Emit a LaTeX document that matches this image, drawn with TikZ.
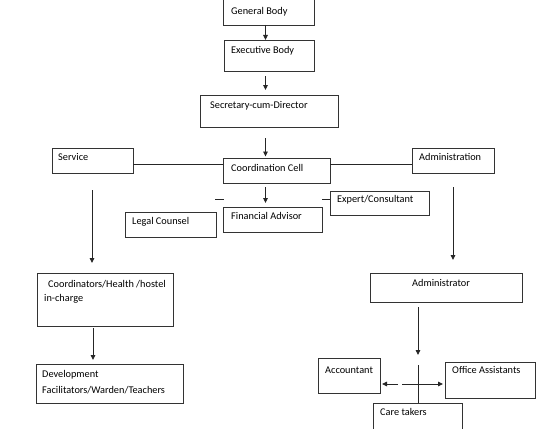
\documentclass[tikz,border=0pt]{standalone}
\usepackage{fontspec}
\setmainfont{Carlito}
\usetikzlibrary{arrows.meta,calc}
\begin{document}
\begin{tikzpicture}[x=1pt,y=-1pt,
  box/.style={draw=black!80,line width=0.9pt},
  txt/.style={anchor=west,inner sep=0pt,font=\fontsize{10.3}{12}\selectfont},
  conn/.style={draw=black!85,line width=0.9pt},
  arr/.style={conn,-{Triangle[length=5pt,width=4.5pt]}}]
\useasboundingbox[fill=white] (0,0) rectangle (551,428);
\begin{scope}
\clip (0,0) rectangle (551,428);
% boxes
\draw[box] (223,-3) rectangle (314,25);
\coordinate (GBs) at (265.5,25);
\draw[box] (224,40) rectangle (314,71);
\coordinate (EBn) at (265.5,40); \coordinate (EBs) at (265.5,71);
\draw[box] (200,95) rectangle (338,127);
\coordinate (SDn) at (265.5,95); \coordinate (SDs) at (265.5,127);
\draw[box] (223,158) rectangle (330,183);
\coordinate (CCn) at (265.5,158); \coordinate (CCs) at (265.5,183);
\coordinate (CCw) at (223,164.5); \coordinate (CCe) at (330,164.5);
\draw[box] (52,148) rectangle (133,173);
\coordinate (SVe) at (133,164.5); \coordinate (SVs) at (92,173);
\draw[box] (412,148) rectangle (494,173);
\coordinate (ADw) at (412,164.5); \coordinate (ADs) at (453,173);
\draw[box] (223,207) rectangle (322,232);
\coordinate (FAn) at (265.5,207);
\draw[box] (330,191) rectangle (429,215);
\coordinate (ECw) at (330,199);
\draw[box] (125,212) rectangle (216,237);
\draw[box] (37,273) rectangle (173,326);
\coordinate (COn) at (92,273); \coordinate (COs) at (93,326);
\draw[box] (36,364) rectangle (183,403);
\coordinate (DVn) at (93,364);
\draw[box] (370,273) rectangle (522,302);
\coordinate (ATs) at (418,302); \coordinate (ATn) at (453,273);
\draw[box] (318,358) rectangle (380,393);
\coordinate (ACe) at (380,384);
\draw[box] (445,362) rectangle (535,398);
\coordinate (OAw) at (445,384);
\draw[box] (373,403) rectangle (462,432);
\coordinate (CTn) at (418,403);
\end{scope}
% texts
\node[txt] (tGB) at (231,12) {General Body};
\node[txt] (tEB) at (231,51) {Executive Body};
\node[txt] (tSD) at (210,106) {Secretary-cum-Director};
\node[txt] (tCC) at (231,168) {Coordination Cell};
\node[txt] (tSV) at (58,157) {Service};
\node[txt] (tAD) at (419,157) {Administration};
\node[txt] (tFA) at (231,216) {Financial Advisor};
\node[txt] (tEC) at (337,200) {Expert/Consultant};
\node[txt] (tLC) at (132,222) {Legal Counsel};
\node[txt] (tCO1) at (48,284) {Coordinators/Health /hostel};
\node[txt] (tCO2) at (44,299) {in-charge};
\node[txt] (tDV1) at (42,375) {Development};
\node[txt] (tDV2) at (42,390) {Facilitators/Warden/Teachers};
\node[txt] (tAT) at (412,283) {Administrator};
\node[txt] (tAC) at (325,370) {Accountant};
\node[txt] (tOA) at (452,370) {Office Assistants};
\node[txt] (tCT) at (380,412) {Care takers};
% connectors
\draw[arr] (GBs) -- (EBn);
\draw[arr,shorten <=5pt,shorten >=5pt] (EBs) -- (SDn);
\draw[arr,shorten <=11pt,shorten >=1.5pt] (SDs) -- (CCn);
\draw[arr,shorten <=4pt,shorten >=4pt] (CCs) -- (FAn);
\draw[conn] (SVe) -- (CCw);
\draw[conn] (CCe) -- (ADw);
\draw[arr,shorten <=17pt,shorten >=10pt] (SVs) -- (COn);
\draw[arr,shorten <=14pt,shorten >=13pt] (ADs) -- (ADs |- ATn);
\draw[arr,shorten <=2pt,shorten >=4pt] (COs) -- (DVn);
\draw[arr,shorten <=5pt,shorten >=48pt] (ATs) -- (CTn);
\draw[conn,shorten <=63pt] (ATs) -- (CTn);
\coordinate (X) at (CTn |- ACe);
\draw[arr,shorten <=20pt,shorten >=2pt] (X) -- (ACe);
\draw[arr,shorten <=-16pt,shorten >=2pt] (X) -- (OAw);
\coordinate (d1) at (215,199);
\coordinate (d2) at (322,199);
\draw[conn] (d1) -- ++(9,0);
\draw[conn] (d2) -- (ECw);
\end{tikzpicture}
\end{document}
